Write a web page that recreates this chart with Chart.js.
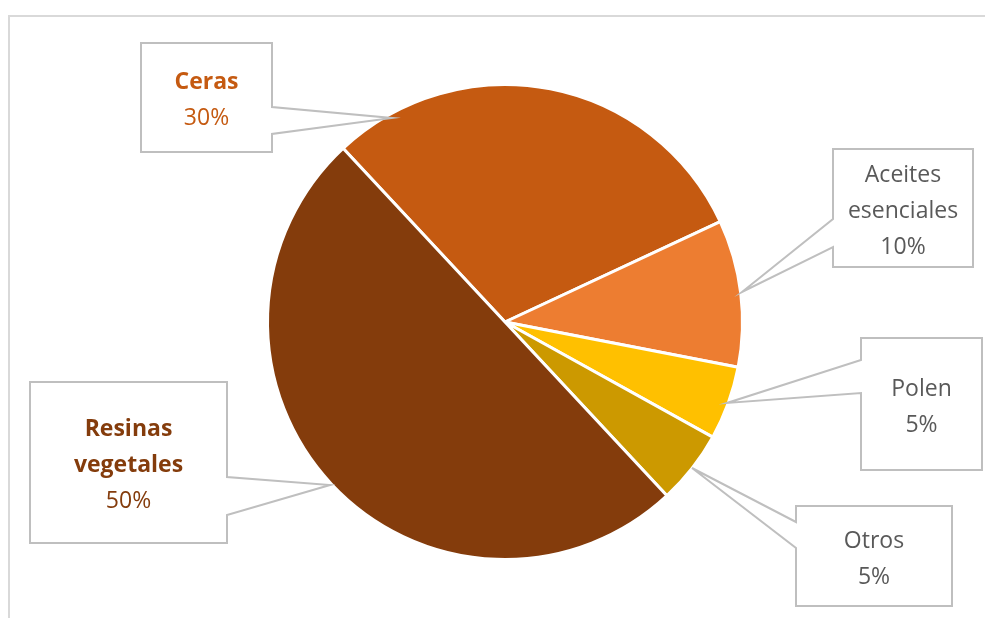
<!DOCTYPE html>
<html>
<head>
<meta charset="utf-8">
<script src="https://cdn.jsdelivr.net/npm/chart.js@4"></script>
<style>
  html, body { margin: 0; padding: 0; background: #fff; }
  #wrap { position: relative; width: 985px; height: 618px; overflow: hidden; }
  #frame { position: absolute; left: 8px; top: 15px; width: 1200px; height: 800px; border: 2px solid #d9d9d9; box-sizing: border-box; }
  #chart { position: absolute; left: 0; top: 0; }
</style>
</head>
<body>
<div id="wrap">
  <div id="frame"></div>
  <canvas id="chart" width="985" height="618"></canvas>
</div>
<script>
// Data
const labels = ['Ceras', 'Aceites esenciales', 'Polen', 'Otros', 'Resinas vegetales'];
const values = [30, 10, 5, 5, 50];
const colors = ['#C55A11', '#ED7D31', '#FFC000', '#CC9900', '#843C0C'];

// Callout layout: box [x1, y1, x2, y2], side of pointer, pointer base y's, tip
const callouts = [
  { box: [141, 43, 272, 152], side: 'right', ya: 107, yb: 134, tip: [392, 118], color: '#C55A11', bold: true },
  { box: [833, 149, 973, 267], side: 'left', ya: 219, yb: 247, tip: [742, 292], color: '#595959', bold: false },
  { box: [861, 338, 982, 470], side: 'left', ya: 360, yb: 393, tip: [727, 403], color: '#595959', bold: false },
  { box: [796, 506, 952, 606], side: 'left', ya: 522, yb: 548, tip: [692, 468], color: '#595959', bold: false },
  { box: [30, 382, 227, 543], side: 'right', ya: 477, yb: 515, tip: [330, 485], color: '#843C0C', bold: true }
];

const calloutPlugin = {
  id: 'callouts',
  afterDraw(chart) {
    const ctx = chart.ctx;
    const total = values.reduce((a, b) => a + b, 0);
    ctx.save();
    callouts.forEach((c, i) => {
      const [x1, y1, x2, y2] = c.box;
      ctx.beginPath();
      if (c.side === 'right') {
        ctx.moveTo(x1, y1);
        ctx.lineTo(x2, y1);
        ctx.lineTo(x2, c.ya);
        ctx.lineTo(c.tip[0], c.tip[1]);
        ctx.lineTo(x2, c.yb);
        ctx.lineTo(x2, y2);
        ctx.lineTo(x1, y2);
      } else {
        ctx.moveTo(x1, y1);
        ctx.lineTo(x2, y1);
        ctx.lineTo(x2, y2);
        ctx.lineTo(x1, y2);
        ctx.lineTo(x1, c.yb);
        ctx.lineTo(c.tip[0], c.tip[1]);
        ctx.lineTo(x1, c.ya);
      }
      ctx.closePath();
      ctx.fillStyle = '#ffffff';
      ctx.fill();
      ctx.strokeStyle = '#bfbfbf';
      ctx.lineWidth = 2;
      ctx.stroke();

      // label text, one word per line, then the percentage
      const pct = Math.round(values[i] / total * 100) + '%';
      const lines = labels[i].split(' ').concat([pct]);
      const lh = 36;
      const cx = (x1 + x2) / 2;
      const cy = (y1 + y2) / 2 + 3;
      const startY = cy - (lines.length - 1) * lh / 2;
      ctx.textAlign = 'center';
      ctx.textBaseline = 'middle';
      ctx.fillStyle = c.color;
      lines.forEach((t, k) => {
        const isPct = k === lines.length - 1;
        ctx.font = (c.bold && !isPct ? 'bold ' : '') + '23px "Open Sans", sans-serif';
        ctx.fillText(t, cx, startY + k * lh);
      });
    });
    ctx.restore();
  }
};

new Chart(document.getElementById('chart'), {
  type: 'pie',
  data: {
    labels: labels,
    datasets: [{
      data: values,
      backgroundColor: colors,
      borderColor: '#ffffff',
      borderWidth: 3
    }]
  },
  options: {
    responsive: false,
    animation: false,
    rotation: -43,
    layout: { padding: { top: 83, bottom: 57, left: 266, right: 241 } },
    plugins: {
      legend: { display: false },
      tooltip: { enabled: false }
    }
  },
  plugins: [calloutPlugin]
});
</script>
</body>
</html>
